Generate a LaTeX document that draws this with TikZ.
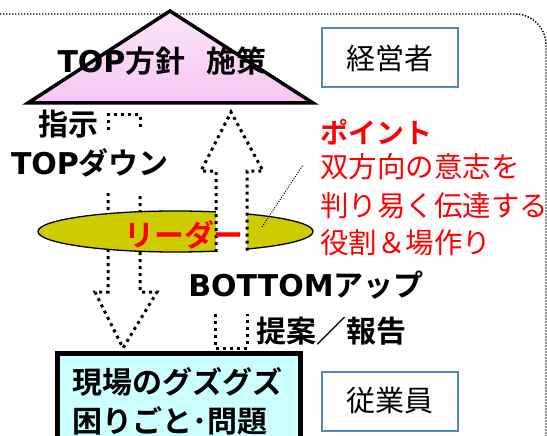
\documentclass[tikz,border=0pt]{standalone}
\usepackage{fontspec}
\setmainfont{Noto Sans CJK JP}[BoldFont={Noto Sans CJK JP Bold}]
\newfontfamily\latinwide{DejaVu Sans}
\usetikzlibrary{shapes.geometric}
\definecolor{pinkTop}{HTML}{FCE6FA}
\definecolor{pinkBot}{HTML}{F8C6F1}
\definecolor{leadfill}{HTML}{CCCC00}
\definecolor{genbafill}{HTML}{CCFFFF}
\definecolor{boxblue}{HTML}{5585C5}
\definecolor{pointred}{HTML}{FF0000}
\newcommand{\Lw}[1]{{\latinwide #1}}
\begin{document}
\begin{tikzpicture}[x=1pt,y=-1pt,
  dotarrow/.style={line width=3pt, dash pattern=on 3pt off 4pt, line cap=butt},
  bigtxt/.style={font=\bfseries\fontsize{30}{32}\selectfont, inner sep=0pt},
  roletxt/.style={draw=boxblue, line width=2pt, fill=white, minimum width=136pt, minimum height=59pt, font=\fontsize{29}{30}\selectfont},
  redtxt/.style={text=pointred, anchor=base west, inner sep=0pt, font=\fontsize{28.5}{30}\selectfont}]
\useasboundingbox (0,0) rectangle (547,436);
% outer dotted frame
\draw[line width=1.4pt, dash pattern=on 1.4pt off 1.6pt, rounded corners=31pt] (0,14) -- (546,14) -- (546,470);
% triangle
\shade[top color=pinkTop, bottom color=pinkBot] (170,11) -- (313,103) -- (28,103) -- cycle;
\draw[line width=3.5pt, line join=miter] (170,11) -- (313,103) -- (28,103) -- cycle;
\node[bigtxt] (topt) at (162,61) {\Lw{TOP}方針\hspace{0.7em}施策};
% role boxes
\node[roletxt] (mgmt) at (390,58) {経営者};
\node[roletxt] (staff) at (390,401) {従業員};
% down arrow (TOP down)
\draw[dotarrow] (108,130) -- (108,115) -- (140,115) -- (140,130);
\draw[dotarrow] (108,193) -- (108,292) -- (95,292) -- (123,348) -- (157,292) -- (140,292) -- (140,193);
% leader ellipse
\node[ellipse, draw, line width=1.3pt, fill=leadfill, minimum width=275pt, minimum height=41pt, inner sep=0pt] (lead) at (175.5,231.5) {};
% up arrow (BOTTOM up)
\filldraw[fill=white, dotarrow] (216,252) -- (216,171) -- (201,171) -- (231,112) -- (263,171) -- (247,171) -- (247,252);
\draw[dotarrow] (215,314) -- (215,348) -- (247,348) -- (247,314);
% leader label
\node[bigtxt, text=pointred] (leadt) at (184,235) {リーダー};
% callout
\coordinate (calla) at (262,227);
\coordinate (callb) at (303,165);
\draw[line width=1pt, dash pattern=on 1pt off 1.5pt] (calla) -- (callb);
% labels
\node[bigtxt] (shiji) at (68,124) {指示};
\node[bigtxt] (topdown) at (90,163) {\Lw{TOP}ダウン};
\node[bigtxt] (bottomup) at (306,285) {\Lw{BOTTOM}アップ};
\node[bigtxt] (teian) at (331,331) {提案／報告};
% point text
\node[redtxt, font=\bfseries\fontsize{28}{30}\selectfont] (p1) at (320,143) {ポイント};
\node[redtxt] (p2) at (320,178) {双方向の意志を};
\node[redtxt] (p3) at (320,216) {判り易く伝達する};
\node[redtxt] (p4) at (320,253) {役割＆場作り};
% genba box
\draw[line width=5pt, fill=genbafill] (57,353) rectangle (300,470);
\node[font=\bfseries\fontsize{30}{30}\selectfont, anchor=base west, inner sep=0pt] (g1) at (72,393) {現場のグズグズ};
\node[font=\bfseries\fontsize{30}{30}\selectfont, anchor=base west, inner sep=0pt] (g2) at (72,432) {困りごと･問題};
\end{tikzpicture}
\end{document}
